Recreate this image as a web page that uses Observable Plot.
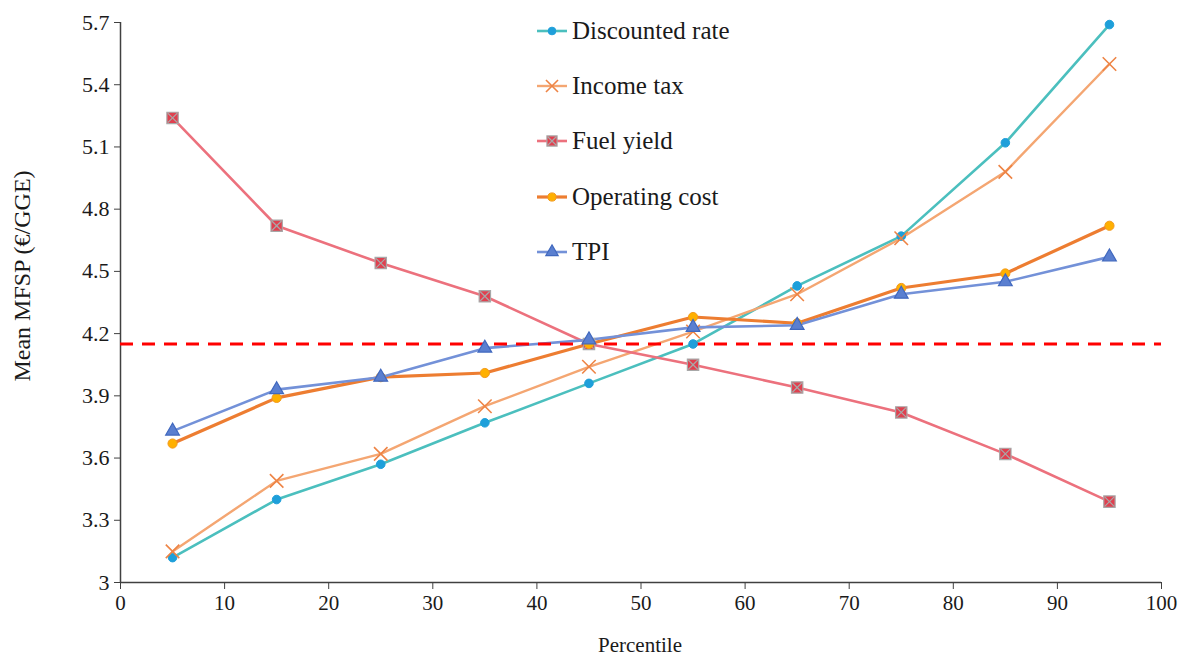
<!DOCTYPE html>
<html>
<head>
<meta charset="utf-8">
<script src="https://cdn.jsdelivr.net/npm/d3@7"></script>
<script src="https://cdn.jsdelivr.net/npm/@observablehq/plot@0.6"></script>
<style>
  html, body { margin: 0; padding: 0; background: #fff; }
  #wrap { position: relative; width: 1189px; height: 659px; }
  #wrap svg text { font-family: "Liberation Serif", serif !important; }
  #legend { position: absolute; left: 537px; top: 3px; font-family: "Liberation Serif", serif; font-size: 25px; color: #1a1a1a; }
  .item { display: flex; align-items: center; height: 55.3px; }
  .item svg { margin-right: 5px; }
  #ytitle { position: absolute; left: 22px; top: 276px; transform: translate(-50%, -50%) rotate(-90deg); white-space: nowrap;
            font-family: "Liberation Serif", serif; font-size: 24px; color: #1a1a1a; line-height: 1; }
  #xtitle { position: absolute; left: 640px; top: 645px; transform: translate(-50%, -50%); white-space: nowrap;
            font-family: "Liberation Serif", serif; font-size: 21px; color: #1a1a1a; line-height: 1; }
</style>
</head>
<body>
<div id="wrap"><div id="legend"></div><div id="ytitle"></div><div id="xtitle"></div></div>
<script>
const percentiles = [5, 15, 25, 35, 45, 55, 65, 75, 85, 95];
const discountedRate = [3.12, 3.40, 3.57, 3.77, 3.96, 4.15, 4.43, 4.67, 5.12, 5.69];
const incomeTax = [3.15, 3.49, 3.62, 3.85, 4.04, 4.21, 4.39, 4.66, 4.98, 5.50];
const fuelYield = [5.24, 4.72, 4.54, 4.38, 4.15, 4.05, 3.94, 3.82, 3.62, 3.39];
const operatingCost = [3.67, 3.89, 3.99, 4.01, 4.15, 4.28, 4.25, 4.42, 4.49, 4.72];
const tpi = [3.73, 3.93, 3.99, 4.13, 4.17, 4.23, 4.24, 4.39, 4.45, 4.57];
const baseline = 4.15;
const seriesNames = ["Discounted rate", "Income tax", "Fuel yield", "Operating cost", "TPI"];
const xTicks = [0, 10, 20, 30, 40, 50, 60, 70, 80, 90, 100];
const yTicks = [3, 3.3, 3.6, 3.9, 4.2, 4.5, 4.8, 5.1, 5.4, 5.7];
const xTitle = "Percentile";
const yTitle = "Mean MFSP (€/GGE)";

const values = [discountedRate, incomeTax, fuelYield, operatingCost, tpi];
const styles = [
  {line: "#4BBFBE", sw: 2.6, symbol: "circle", fill: "#1E9FDA", stroke: "#1E9FDA", r: 4.3, sws: 1},
  {line: "#F4A672", sw: 2.4, symbol: "times", fill: "none", stroke: "#EE8445", r: 6.2, sws: 1.6},
  {line: "#EC717D", sw: 2.6, symbol: "square", fill: "#E0404F", stroke: "#A8A8A8", r: 6.4, sws: 1.2, inner: true},
  {line: "#ED7D31", sw: 3.2, symbol: "circle", fill: "#FFB000", stroke: "#F39A1E", r: 4.6, sws: 1},
  {line: "#7391D8", sw: 2.6, symbol: "triangle", fill: "#5A7FD0", stroke: "#4068BE", r: 5.1, sws: 1.2}
];

const rows = [];
seriesNames.forEach((name, i) => {
  percentiles.forEach((p, j) => rows.push({series: name, idx: i, x: p, y: values[i][j]}));
});

const marks = [];
marks.push(Plot.axisX({ticks: xTicks, tickSize: 7, tickPadding: 6, tickFormat: d => String(d), fontSize: 21, label: null, stroke: "#404040"}));
marks.push(Plot.axisY({ticks: yTicks, tickSize: 6, tickPadding: 5, tickFormat: d => String(+d.toFixed(1)), fontSize: 22, label: null, stroke: "#404040"}));
marks.push(Plot.ruleX([0], {stroke: "#404040", strokeWidth: 1.5}));
marks.push(Plot.ruleY([3], {stroke: "#404040", strokeWidth: 1.5}));

seriesNames.forEach((name, i) => {
  const s = styles[i];
  marks.push(Plot.line(rows.filter(r => r.idx === i), {x: "x", y: "y", stroke: s.line, strokeWidth: s.sw, strokeLinejoin: "round"}));
});
marks.push(Plot.ruleY([baseline], {stroke: "#FF0000", strokeWidth: 3, strokeDasharray: "13,9"}));
seriesNames.forEach((name, i) => {
  const s = styles[i];
  const d = rows.filter(r => r.idx === i);
  marks.push(Plot.dot(d, {x: "x", y: "y", symbol: s.symbol, r: s.r, fill: s.fill, stroke: s.stroke, strokeWidth: s.sws}));
  if (s.inner) marks.push(Plot.dot(d, {x: "x", y: "y", symbol: "times", r: 4.4, stroke: "#A8A8A8", strokeWidth: 1.2}));
});

const chart = Plot.plot({
  width: 1189,
  height: 659,
  marginLeft: 120,
  marginRight: 28,
  marginTop: 22,
  marginBottom: 77,
  x: {domain: [0, 100]},
  y: {domain: [3, 5.7]},
  style: {fontFamily: "Liberation Serif, serif", fontSize: "21px", color: "#1a1a1a", background: "#fff"},
  marks
});
document.getElementById("wrap").prepend(chart);
document.getElementById("ytitle").textContent = yTitle;
document.getElementById("xtitle").textContent = xTitle;

// legend
const legend = d3.select("#legend");
seriesNames.forEach((name, i) => {
  const s = styles[i];
  const item = legend.append("div").attr("class", "item");
  const svg = item.append("svg").attr("width", 30).attr("height", 20);
  svg.append("line").attr("x1", 0).attr("x2", 30).attr("y1", 10).attr("y2", 10).attr("stroke", s.line).attr("stroke-width", s.sw);
  const sym = {circle: d3.symbolCircle, times: d3.symbolTimes, square: d3.symbolSquare, triangle: d3.symbolTriangle}[s.symbol];
  svg.append("path").attr("transform", "translate(15,10)").attr("d", d3.symbol(sym, Math.PI * s.r * s.r * 0.8)())
    .attr("fill", s.fill).attr("stroke", s.stroke).attr("stroke-width", s.sws);
  if (s.inner) svg.append("path").attr("transform", "translate(15,10)").attr("d", d3.symbol(d3.symbolTimes, Math.PI * 4.4 * 4.4 * 0.8)()).attr("fill", "none").attr("stroke", "#A8A8A8").attr("stroke-width", 1.2);
  item.append("span").text(name);
});
</script>
</body>
</html>
